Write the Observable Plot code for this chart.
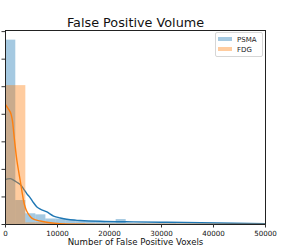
<!DOCTYPE html>
<html><head><meta charset="utf-8">
<script src="https://cdn.jsdelivr.net/npm/d3@7"></script>
<script src="https://cdn.jsdelivr.net/npm/@observablehq/plot@0.6"></script>
<style>
html,body{margin:0;padding:0;background:#fff;}
#wrap{position:relative;width:299px;height:252px;overflow:hidden;font-family:"DejaVu Sans",sans-serif;}
.legend{position:absolute;left:215px;top:32px;width:46px;height:23px;border:1px solid #d6d6d6;border-radius:2px;background:rgba(255,255,255,0.8);}
.item{position:absolute;left:2px;font-size:7px;line-height:8px;color:#222;white-space:nowrap;}
.sw{display:inline-block;width:14px;height:4px;vertical-align:middle;margin-right:5px;position:relative;top:-1px;}
</style></head><body><div id="wrap"></div>
<script>
const title = "False Positive Volume";
const xLabel = "Number of False Positive Voxels";
const seriesNames = ["PSMA", "FDG"];
const xTicks = [0, 10000, 20000, 30000, 40000, 50000];
const yTicks = [0, 0.00005, 0.0001, 0.00015, 0.0002, 0.00025, 0.0003, 0.00035];

// histogram bins (density)
const psmaEdges = [50, 1980, 3910, 5840, 7770, 9700, 11630, 13560, 15490, 17420, 19350, 21280, 23210, 25140, 27070, 29000, 30930, 32860, 34790, 36720, 38650, 40580, 42510, 44440, 46370, 48300, 50230];
const psmaDensity = [3.345e-4, 4.35e-5, 1.95e-5, 1.75e-5, 1.0e-5, 1.0e-5, 0.85e-5, 0.6e-5, 0.5e-5, 0.4e-5, 0.3e-5, 0.9e-5, 0.2e-5, 0.2e-5, 0.15e-5, 0.15e-5, 0.15e-5, 0.1e-5, 0.1e-5, 0.1e-5, 0.1e-5, 0.1e-5, 0.1e-5, 0.1e-5, 0.1e-5, 0.1e-5];
const fdgEdges = [50, 3910, 7770, 11630, 15490];
const fdgDensity = [2.52e-4, 0.3e-5, 0.2e-5, 0.1e-5];

// KDE curves
const psmaKdeX = [0, 424, 905, 1540, 2195, 2830, 3466, 4120, 4756, 5391, 6045, 6681, 7971, 9241, 10531, 12457, 14382, 18232, 24586, 31132, 37486, 43839, 50000];
const psmaKdeY = [8.15e-5, 8.28e-5, 8.33e-5, 8.06e-5, 7.67e-5, 7.25e-5, 6.47e-5, 5.56e-5, 4.84e-5, 3.95e-5, 3.17e-5, 2.81e-5, 2.27e-5, 1.54e-5, 1.18e-5, 0.85e-5, 0.73e-5, 0.58e-5, 0.47e-5, 0.40e-5, 0.33e-5, 0.24e-5, 0.13e-5];
const fdgKdeX = [0, 520, 1097, 1386, 1579, 1868, 2195, 2503, 2830, 3157, 3466, 3793, 4120, 4756, 5391, 6681, 8606, 10531, 13419, 18232, 24000, 50000];
const fdgKdeY = [2.174e-4, 2.10e-4, 1.993e-4, 1.848e-4, 1.667e-4, 1.413e-4, 1.16e-4, 0.979e-4, 0.797e-4, 0.607e-4, 0.435e-4, 0.314e-4, 0.236e-4, 0.145e-4, 0.096e-4, 0.064e-4, 0.031e-4, 0.015e-4, 0.006e-4, 0.002e-4, 0.001e-4, 0];

const blue = "#1f77b4", orange = "#ff7f0e";
const bins = (edges, dens) => dens.map((h, i) => ({x1: edges[i], x2: edges[i + 1], h}));
const pts = (xs, ys) => xs.map((x, i) => ({x, y: ys[i]}));

const chart = Plot.plot({
  width: 299, height: 252,
  marginLeft: 5, marginRight: 34, marginTop: 30, marginBottom: 28,
  style: {fontFamily: "DejaVu Sans", background: "white"},
  x: {domain: [0, 50000]},
  y: {domain: [0, 3.52e-4]},
  marks: [
    Plot.rect(bins(psmaEdges, psmaDensity), {x1: "x1", x2: "x2", y1: 0, y2: "h", fill: blue, fillOpacity: 0.4, clip: true}),
    Plot.line(pts(psmaKdeX, psmaKdeY), {x: "x", y: "y", stroke: blue, strokeWidth: 1.4, curve: "monotone-x", clip: true}),
    Plot.rect(bins(fdgEdges, fdgDensity), {x1: "x1", x2: "x2", y1: 0, y2: "h", fill: orange, fillOpacity: 0.4, clip: true}),
    Plot.line(pts(fdgKdeX, fdgKdeY), {x: "x", y: "y", stroke: orange, strokeWidth: 1.4, curve: "monotone-x", clip: true}),
    Plot.frame({stroke: "#222", strokeWidth: 1}),
    Plot.axisX({ticks: xTicks, tickSize: 3.5, tickPadding: 2.5, fontSize: 7.1, tickFormat: d3.format("d"), label: null, stroke: "#333", fill: "#111"}),
    Plot.axisY({ticks: yTicks, tickSize: 3.5, tickPadding: 3, fontSize: 7.1, tickFormat: d3.format(".5f"), label: null, stroke: "#333", fill: "#111"}),
    Plot.text([title], {frameAnchor: "top", dy: -8.1, fontSize: 12.8, lineAnchor: "middle", fill: "#111"}),
    Plot.text([xLabel], {frameAnchor: "bottom", dy: 18, fontSize: 8.6, lineAnchor: "middle", fill: "#111"})
  ]
});
const wrap = document.getElementById("wrap");
wrap.appendChild(chart);
const lg = document.createElement("div");
lg.className = "legend";
[[seriesNames[0], blue, 3], [seriesNames[1], orange, 13]].forEach(([name, c, top]) => {
  const it = document.createElement("div");
  it.className = "item";
  it.style.top = top + "px";
  const sw = document.createElement("span");
  sw.className = "sw";
  sw.style.background = c;
  sw.style.opacity = 0.4;
  it.appendChild(sw);
  it.appendChild(document.createTextNode(name));
  lg.appendChild(it);
});
wrap.appendChild(lg);
</script></body></html>
